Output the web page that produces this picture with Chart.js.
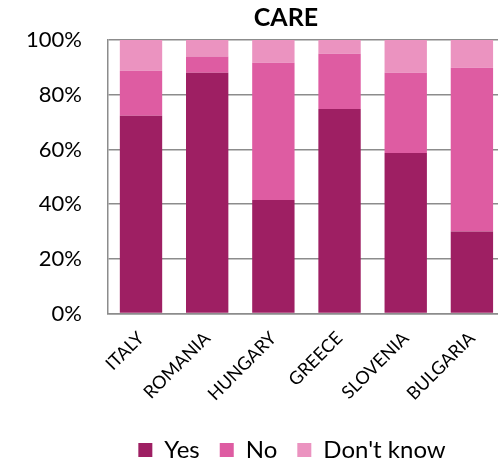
<!DOCTYPE html>
<html>
<head>
<meta charset="utf-8">
<script src="https://cdn.jsdelivr.net/npm/chart.js@4/dist/chart.umd.min.js"></script>
<style>
  html, body { margin: 0; padding: 0; background: #fff; overflow: hidden; }
  #wrap { width: 505px; height: 462px; position: relative; }
</style>
</head>
<body>
<div id="wrap"><canvas id="care-chart"></canvas></div>
<script>
  // countries along the x axis
  const countries = ['ITALY', 'ROMANIA', 'HUNGARY', 'GREECE', 'SLOVENIA', 'BULGARIA'];
  // answer shares (%), stacked to 100
  const yes = [72.3, 88.0, 41.5, 74.8, 58.7, 30.0];
  const no = [16.5, 6.0, 50.2, 20.2, 29.3, 59.9];
  const dontKnow = [11.2, 6.0, 8.3, 5.0, 12.0, 10.1];
  const yTicks = [0, 20, 40, 60, 80, 100];

  const FONT = 'Lato, "Open Sans", sans-serif';

  // title and legend sit a bit left of the plot centre, so place them by hand
  const TITLE_X = 286;
  const LEGEND_CENTER = 292;
  const LEGEND_DROP = 4;

  const titlePlugin = {
    id: 'careTitle',
    afterDraw(chart) {
      const ctx = chart.ctx;
      ctx.save();
      ctx.font = 'bold 25px ' + FONT;
      ctx.fillStyle = '#000';
      ctx.textAlign = 'center';
      ctx.textBaseline = 'middle';
      ctx.fillText('CARE', TITLE_X, 18);
      ctx.restore();
    }
  };

  const legendShift = {
    id: 'legendShift',
    afterUpdate(chart) {
      const lg = chart.legend;
      if (!lg) return;
      const dx = LEGEND_CENTER - (lg.left + lg.right) / 2;
      lg.left += dx;
      lg.right += dx;
      lg.top += LEGEND_DROP;
      lg.bottom += LEGEND_DROP;
      lg.adjustHitBoxes();
    }
  };

  var careCanvas = document.getElementById('care-chart');
  var careChart = new Chart(careCanvas, {
    type: 'bar',
    data: {
      labels: countries,
      datasets: [
        { label: 'Yes', data: yes, backgroundColor: '#9E1F63' },
        { label: 'No', data: no, backgroundColor: '#DE5CA2' },
        { label: "Don't know", data: dontKnow, backgroundColor: '#EB93C0' }
      ]
    },
    options: {
      responsive: true,
      maintainAspectRatio: false,
      animation: false,
      layout: { padding: { top: 40, left: 0, right: 0, bottom: -6 } },
      datasets: { bar: { categoryPercentage: 1, barPercentage: 0.64 } },
      scales: {
        x: {
          stacked: true,
          grid: { display: false, drawTicks: false },
          border: { color: '#8c8c8c', width: 1.5 },
          // let the rotated names hang a little into the legend band
          afterFit: axis => { axis.height -= 5; },
          ticks: {
            color: '#000',
            font: { family: FONT, size: 18 },
            minRotation: 45,
            maxRotation: 45,
            padding: 14
          }
        },
        y: {
          stacked: true,
          min: 0,
          max: 100,
          afterBuildTicks: axis => { axis.ticks = yTicks.map(v => ({ value: v })); },
          grid: { color: '#8c8c8c', lineWidth: 1.5, drawTicks: false },
          border: { color: '#8c8c8c', width: 1.5 },
          ticks: {
            color: '#000',
            font: { family: FONT, size: 22 },
            padding: 26,
            callback: v => v + '%'
          }
        }
      },
      plugins: {
        title: { display: false },
        tooltip: { enabled: false },
        legend: {
          position: 'bottom',
          labels: {
            color: '#000',
            font: { family: FONT, size: 24 },
            boxWidth: 14,
            boxHeight: 14,
            padding: 20
          }
        }
      }
    },
    plugins: [titlePlugin, legendShift]
  });
</script>
</body>
</html>
